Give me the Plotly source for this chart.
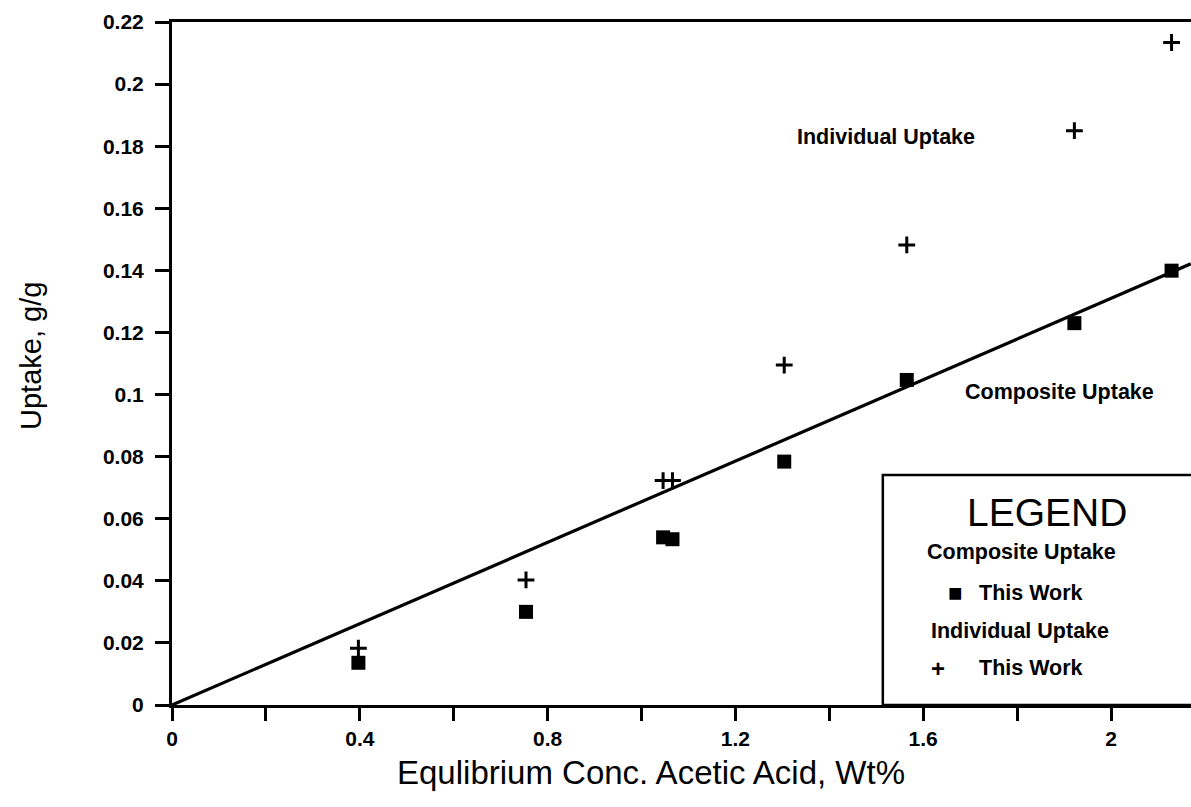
import plotly.graph_objects as go

# Equilibrium acetic acid concentration (wt%)
conc = [0.397, 0.754, 1.046, 1.066, 1.304, 1.565, 1.922, 2.129]
# Composite uptake, g/g
composite = [0.0136, 0.0300, 0.0540, 0.0534, 0.0784, 0.1047, 0.1230, 0.1399]
# Individual uptake, g/g
individual = [0.0183, 0.0403, 0.0723, 0.0723, 0.1095, 0.1482, 0.1850, 0.2134]
# Straight line through the composite data
fit_x = [0.0, 2.17]
fit_y = [0.0, 0.1421]

x_ticks = [0, 0.2, 0.4, 0.6, 0.8, 1.0, 1.2, 1.4, 1.6, 1.8, 2.0]
x_labels = ["0", "", "0.4", "", "0.8", "", "1.2", "", "1.6", "", "2"]
y_ticks = [0, 0.02, 0.04, 0.06, 0.08, 0.1, 0.12, 0.14, 0.16, 0.18, 0.2, 0.22]
y_labels = ["0", "0.02", "0.04", "0.06", "0.08", "0.1", "0.12", "0.14",
            "0.16", "0.18", "0.2", "0.22"]

FONT = "Liberation Sans, Arial, Helvetica, sans-serif"

# page and plot-area geometry (pixels)
W, H = 1191, 807
L, R, T, B = 172, 0, 22, 102
pw, ph = W - L - R, H - T - B

fig = go.Figure()
fig.add_trace(go.Scatter(x=fit_x, y=fit_y, mode="lines",
                         line=dict(color="black", width=3.2),
                         showlegend=False, hoverinfo="skip"))
fig.add_trace(go.Scatter(x=conc, y=composite, mode="markers",
                         marker=dict(symbol="square", size=14, color="black"),
                         name="Composite Uptake", showlegend=False))
fig.add_trace(go.Scatter(x=conc, y=individual, mode="markers",
                         marker=dict(symbol="cross-thin", size=12,
                                     line=dict(color="black", width=3)),
                         name="Individual Uptake", showlegend=False))

# Legend box sitting on the x axis
fig.add_shape(type="rect", xref="x", yref="y", x0=1.514, x1=2.2, y0=0, y1=0.0741,
              line=dict(color="black", width=2.5), fillcolor="rgba(0,0,0,0)")

ann = []


def px_label(text, x, y, size, bold=True, anchor="center", angle=0):
    """Place a text by its pixel position on the page."""
    ann.append(dict(x=(x - L) / pw, y=(H - y - B) / ph, xref="paper", yref="paper",
                    showarrow=False, textangle=angle,
                    text=f"<b>{text}</b>" if bold else text,
                    xanchor=anchor, yanchor="middle",
                    font=dict(family=FONT, size=size, color="black")))


# in-plot labels
px_label("Individual Uptake", 886, 137, 21.5)
px_label("Composite Uptake", 1059, 392, 21.5)

# legend contents
px_label("LEGEND", 1047, 512, 39, bold=False)
px_label("Composite Uptake", 1021, 552, 21.5)
px_label("■", 955, 592, 24, bold=False)
px_label("This Work", 977, 593, 21.5, anchor="left")
px_label("Individual Uptake", 1020, 631, 21.5)
px_label("+", 938, 668, 24)
px_label("This Work", 977, 668, 21.5, anchor="left")

# axis titles
px_label("Equlibrium Conc. Acetic Acid, Wt%", 651, 772, 33, bold=False)
px_label("Uptake, g/g", 31, 356, 29, bold=False, angle=-90)

fig.update_layout(
    width=W, height=H,
    margin=dict(l=L, r=R, t=T, b=B, pad=0),
    paper_bgcolor="white", plot_bgcolor="white",
    annotations=ann,
    font=dict(family=FONT, color="black"),
    xaxis=dict(range=[0, pw / 469.5], tickmode="array", tickvals=x_ticks,
               ticktext=[f"<b>{t}</b>" if t else "" for t in x_labels],
               ticks="outside", ticklen=13, tickwidth=2.5, tickcolor="black",
               showline=True, linewidth=3, linecolor="black", mirror=True,
               showgrid=False, zeroline=False,
               tickfont=dict(family=FONT, size=21, color="black")),
    yaxis=dict(range=[0, 0.22], tickmode="array", tickvals=y_ticks,
               ticktext=[f"<b>{t}</b>" for t in y_labels],
               ticks="outside", ticklen=14, tickwidth=2.5, tickcolor="black",
               ticklabelstandoff=7,
               showline=True, linewidth=3, linecolor="black", mirror=False,
               showgrid=False, zeroline=False,
               tickfont=dict(family=FONT, size=21, color="black")),
)

fig.write_html("out.html")
